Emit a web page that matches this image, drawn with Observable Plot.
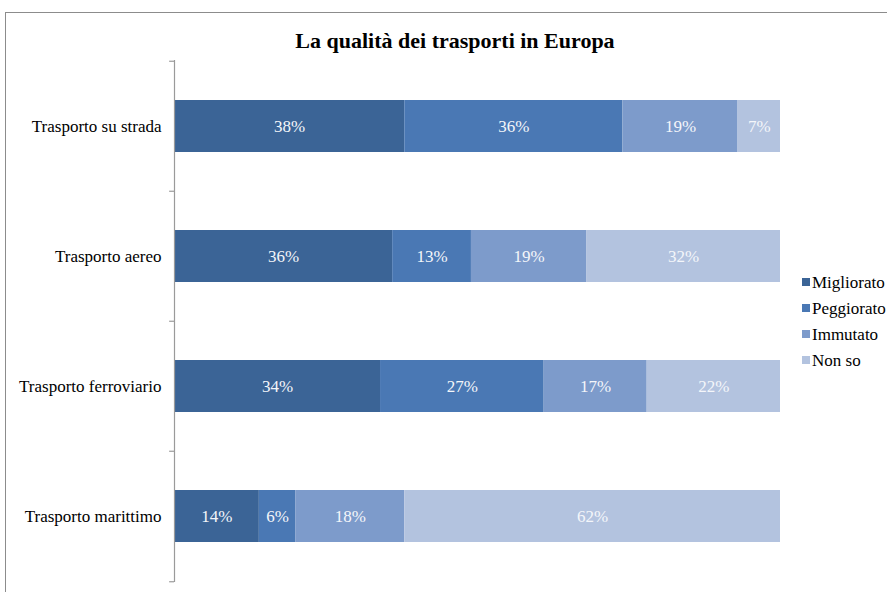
<!DOCTYPE html>
<html>
<head>
<meta charset="utf-8">
<script src="https://cdn.jsdelivr.net/npm/d3@7"></script>
<script src="https://cdn.jsdelivr.net/npm/@observablehq/plot@0.6"></script>
<style>
  html, body { margin: 0; padding: 0; background: #fff; }
  #wrap { position: relative; width: 887px; height: 592px; overflow: hidden; font-family: "Liberation Serif", "Times New Roman", serif; }
  #frame { position: absolute; left: 5px; top: 12px; width: 900px; height: 600px; border: 1px solid #8c8c8c; box-sizing: border-box; }
  #title { position: absolute; left: 0; width: 910px; top: 28px; text-align: center; font-size: 22px; font-weight: bold; color: #000; }
  #chart { position: absolute; left: 0; top: 0; }
  #legend { position: absolute; left: 802px; top: 272px; font-size: 17px; color: #000; }
  .li { height: 26px; line-height: 22px; white-space: nowrap; }
  .sw { display: inline-block; width: 8px; height: 8px; margin-right: 2px; vertical-align: 2px; }
</style>
</head>
<body>
<div id="wrap">
  <div id="frame"></div>
  <div id="chart"></div>
  <div id="title">La qualità dei trasporti in Europa</div>
  <div id="legend"></div>
</div>
<script>
const categories = ["Trasporto su strada", "Trasporto aereo", "Trasporto ferroviario", "Trasporto marittimo"];
const seriesNames = ["Migliorato", "Peggiorato", "Immutato", "Non so"];
const seriesColors = ["#3b6496", "#4a78b4", "#7d9bcb", "#b3c3df"];
const migliorato = [38, 36, 34, 14];
const peggiorato = [36, 13, 27, 6];
const immutato = [19, 19, 17, 18];
const nonSo = [7, 32, 22, 62];

const seriesValues = [migliorato, peggiorato, immutato, nonSo];
const data = [];
categories.forEach((c, i) => {
  seriesNames.forEach((s, j) => {
    data.push({category: c, series: s, value: seriesValues[j][i]});
  });
});

const step = (582 - 60) / 4;
const axisColor = "#9a9a9a";

const chart = Plot.plot({
  width: 887,
  height: 592,
  marginTop: 60,
  marginBottom: 10,
  marginLeft: 174,
  marginRight: 107,
  style: {fontFamily: "'Liberation Serif', 'Times New Roman', serif", fontSize: "17px", background: "transparent"},
  x: {domain: [0, 100], axis: null},
  y: {domain: categories, paddingInner: 0.6, paddingOuter: 0.3, label: null, tickSize: 0, tickPadding: 13},
  color: {domain: seriesNames, range: seriesColors},
  marks: [
    Plot.barX(data, Plot.stackX({x: "value", y: "category", fill: "series", z: "series"})),
    Plot.text(data, Plot.stackX({x: "value", y: "category", z: "series", text: d => d.value + "%", fill: "#f4f6fa", fontSize: 17})),
    Plot.ruleX([0], {stroke: axisColor, strokeWidth: 1.2}),
    Plot.ruleY(categories, {y: d => d, x1: -0.8, x2: 0, dy: -step / 2, stroke: axisColor, strokeWidth: 1.2}),
    Plot.ruleY(categories.slice(-1), {y: d => d, x1: -0.8, x2: 0, dy: step / 2, stroke: axisColor, strokeWidth: 1.2}),
    Plot.axisY({tickSize: 0, tickPadding: 13, fill: "#000", fontSize: 17, label: null})
  ]
});
document.getElementById("chart").appendChild(chart);

const legend = document.getElementById("legend");
seriesNames.forEach((s, j) => {
  const row = document.createElement("div");
  row.className = "li";
  const sw = document.createElement("span");
  sw.className = "sw";
  sw.style.background = seriesColors[j];
  row.appendChild(sw);
  row.appendChild(document.createTextNode(s));
  legend.appendChild(row);
});
</script>
</body>
</html>
